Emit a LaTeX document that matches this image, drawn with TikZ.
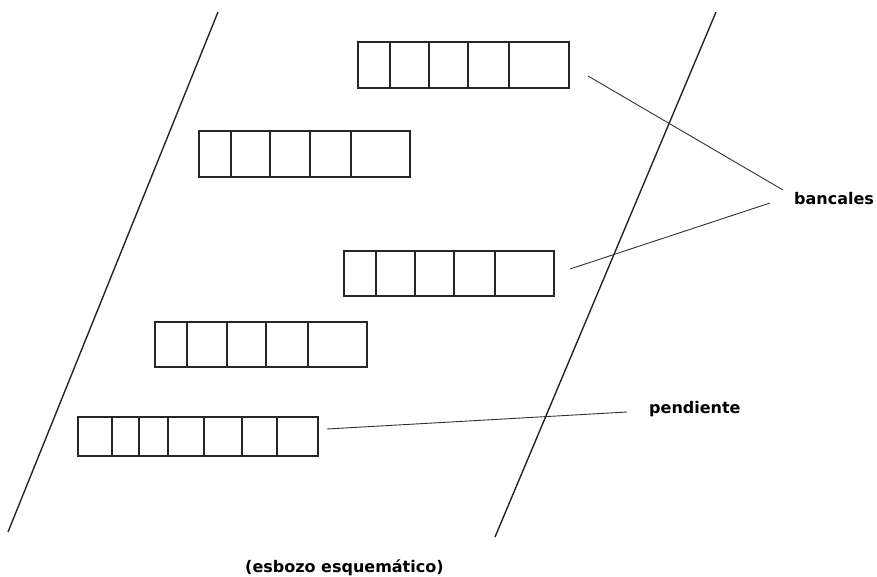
\documentclass[tikz,border=0pt]{standalone}
\usepackage{fontspec}
\setmainfont{DejaVu Sans}
\begin{document}
\begin{tikzpicture}[x=1pt,y=-1pt,
  cell/.style={draw=black!85,line width=1.3pt},
  slope/.style={draw=black!85,line width=1.4pt},
  leader/.style={draw=black!80,line width=0.9pt},
  lbl/.style={font=\bfseries\fontsize{16}{18}\selectfont,inner sep=0pt,anchor=base west}]
\useasboundingbox (0,0) rectangle (877,577);

% slope boundaries
\draw[slope] (218,12) -- (8,532);
\draw[slope] (716,12) -- (495,537);

% terraces: cell edges from left to right, top and bottom
\foreach \ys/\ye/\xs in {
  42/88/{358,390,429,468,509,569},
  131/177/{199,231,270,310,351,410},
  251/296/{344,376,415,454,495,554},
  322/367/{155,187,227,266,308,367},
  417/456/{78,112,139,168,204,242,277,318}}{
  \foreach \a [remember=\a as \b (initially 0)] in \xs {
    \ifnum\b>0 \draw[cell] (\b,\ys) rectangle (\a,\ye); \fi
  }
}

% labels
\node[lbl] (banc) at (794,205) {bancales};
\node[lbl] (pend) at (649,413) {pendiente};
\node[lbl] (cap) at (245,572) {(esbozo esquemático)};

% leader lines
\coordinate (t1) at (588,76);
\coordinate (t3) at (570,269);
\coordinate (t5) at (327,429);
\coordinate (b1) at (783,190);
\coordinate (b2) at (770,203);
\coordinate (p1) at (627,412);
\draw[leader] (t1) -- (b1);
\draw[leader] (t3) -- (b2);
\draw[leader] (t5) -- (p1);
\end{tikzpicture}
\end{document}
